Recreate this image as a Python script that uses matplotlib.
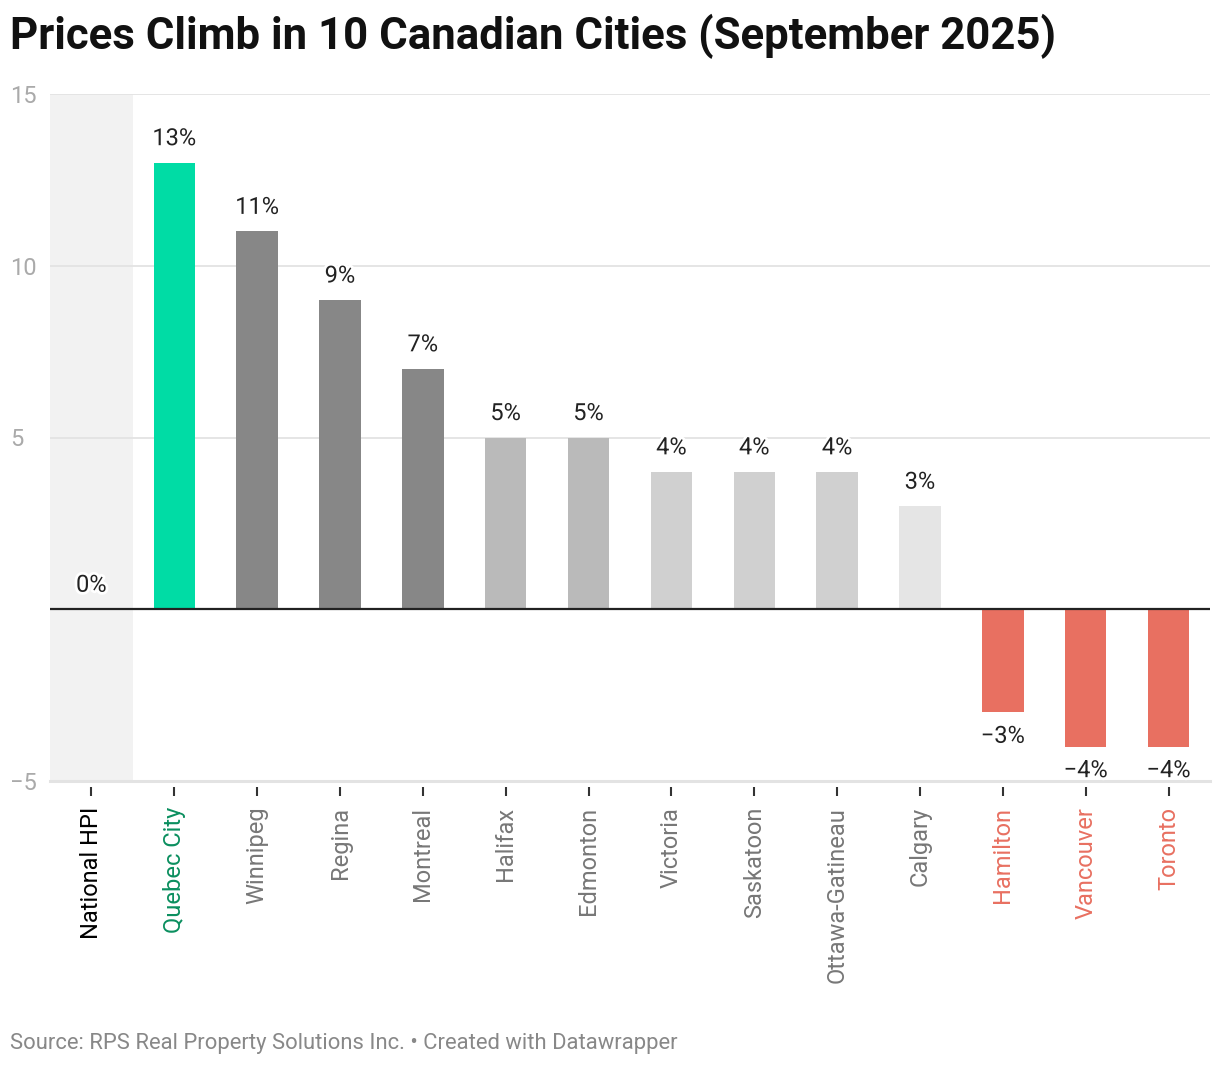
import matplotlib.pyplot as plt
import matplotlib.patheffects as pe

plt.rcParams['font.family'] = ['Roboto', 'DejaVu Sans']

cities = ["National HPI", "Quebec City", "Winnipeg", "Regina", "Montreal",
          "Halifax", "Edmonton", "Victoria", "Saskatoon", "Ottawa-Gatineau",
          "Calgary", "Hamilton", "Vancouver", "Toronto"]
values = [0, 13, 11, 9, 7, 5, 5, 4, 4, 4, 3, -3, -4, -4]
bar_colors = ["#878787", "#00dca5", "#878787", "#878787", "#878787",
              "#bababa", "#bababa", "#d0d0d0", "#d0d0d0", "#d0d0d0",
              "#e5e5e5", "#e87061", "#e87061", "#e87061"]
label_colors = ["#000000", "#0b8f5f"] + ["#777777"] * 9 + ["#e87061"] * 3
yticks = [-5, 5, 10, 15]

fig = plt.figure(figsize=(12.2, 10.66), dpi=100)
ax = fig.add_axes([50 / 1220, 1 - 781 / 1066, 1160 / 1220, 687 / 1066])

x = list(range(len(cities)))
ax.bar(x, values, width=0.5, color=bar_colors, zorder=2)

# highlight band for the national index
ax.axvspan(-0.5, 0.5, color="#f2f2f2", zorder=0, lw=0)

ax.set_xlim(-0.5, len(cities) - 0.5)
ax.set_ylim(-5, 15)

for yt in [5, 10, 15]:
    ax.axhline(yt, color="#e3e3e3", lw=1.3, zorder=1)
ax.axhline(-5, color="#e3e3e3", lw=2.2, zorder=1, clip_on=False)
ax.axhline(0, color="#222222", lw=1.6, zorder=3)

for s in ["top", "right", "left", "bottom"]:
    ax.spines[s].set_visible(False)
# push x ticks a bit below the base line
ax.spines["bottom"].set_position(("outward", 4))

ax.set_yticks(yticks)
ax.set_yticklabels(["\u22125" if t < 0 else str(t) for t in yticks])
ax.tick_params(axis="y", length=0, pad=29, labelsize=17, labelcolor="#aaaaaa")
for lbl in ax.get_yticklabels():
    lbl.set_horizontalalignment("left")

ax.set_xticks(x)
ax.set_xticklabels(cities, rotation=90, fontsize=17)
ax.tick_params(axis="x", length=6.5, width=1.5, color="#333333", pad=8)
for lbl, c in zip(ax.get_xticklabels(), label_colors):
    lbl.set_color(c)

halo = [pe.withStroke(linewidth=4, foreground="white")]
for xi, v in zip(x, values):
    if v >= 0:
        ax.annotate(f"{v}%", (xi, v), xytext=(0, 9), textcoords="offset points",
                    ha="center", va="bottom", fontsize=17, color="#222222",
                    path_effects=halo, zorder=4)
    else:
        ax.annotate(f"\u2212{abs(v)}%", (xi, v), xytext=(0, -9), textcoords="offset points",
                    ha="center", va="top", fontsize=17, color="#222222",
                    path_effects=halo, zorder=4)

fig.text(10 / 1220, 1 - 36 / 1066, "Prices Climb in 10 Canadian Cities (September 2025)",
         fontsize=31.5, fontweight="bold", color="#111111", va="center", ha="left")
fig.text(10 / 1220, 1 - 1043 / 1066,
         "Source: RPS Real Property Solutions Inc. \u2022 Created with Datawrapper",
         fontsize=15.8, color="#888888", va="center", ha="left")

fig.savefig("out.png", dpi=100, facecolor="white")
